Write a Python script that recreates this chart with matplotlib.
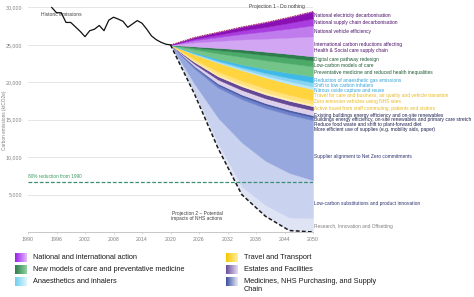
import numpy as np
import matplotlib
matplotlib.use('Agg')
import matplotlib.pyplot as plt
from matplotlib.colors import LinearSegmentedColormap

plt.rcParams['font.family'] = ['Liberation Sans', 'DejaVu Sans']

# ---------------- data ----------------
hist_years = list(range(1995, 2021))
hist_values = [30000, 29300, 29300, 28000, 28000, 27400, 26800, 26100, 26900, 27100,
               27600, 26900, 28300, 28700, 28450, 28150, 27350, 27800, 28250, 27900,
               27100, 26200, 25700, 25350, 25100, 25000]

proj_years = [2020, 2025, 2030, 2035, 2040, 2045, 2050]
proj2_bottom = [25000, 18500, 11200, 5000, 2100, 200, 0]

# band thicknesses, listed bottom-to-top
research = [0, 300, 700, 1100, 1500, 1750, 1870]
low_carbon_subs = [0, 1050, 3370, 5870, 5910, 5950, 5060]
supplier_alignment = [0, 2000, 4000, 5760, 7040, 7760, 8000]
efficient_supplies = [0, 200, 340, 380, 400, 400, 400]
food_waste = [0, 130, 230, 255, 267, 267, 267]
buildings_stretch = [0, 300, 530, 614, 647, 667, 667]
existing_buildings = [0, 240, 430, 490, 517, 533, 533]
active_travel = [0, 120, 213, 253, 267, 267, 267]
zero_emission = [0, 240, 430, 505, 533, 533, 533]
travel_care = [0, 660, 1170, 1390, 1467, 1467, 1467]
nitrous_oxide = [0, 60, 120, 180, 260, 340, 400]
inhalers = [0, 80, 160, 240, 350, 450, 533]
anaesthetic = [0, 120, 240, 360, 520, 680, 800]
preventative = [0, 400, 733, 1000, 1160, 1267, 1333]
low_carbon_care = [0, 240, 440, 600, 696, 760, 800]
digital_care = [0, 160, 293, 400, 464, 506, 533]
international = [0, 530, 930, 1330, 1740, 2180, 2670]
vehicle_eff = [0, 290, 510, 730, 960, 1200, 1470]
supply_chain = [0, 190, 330, 470, 600, 760, 930]
electricity = [0, 190, 330, 470, 600, 760, 930]

band_labels = [
    "Research, Innovation and Offsetting",
    "Low-carbon substitutions and product innovation",
    "Supplier alignment to Net Zero commitments",
    "More efficient use of supplies (e.g. mobility aids, paper)",
    "Reduce food waste and shift to plant-forward diet",
    "Buildings energy efficiency, on-site renewables and primary care stretch",
    "Existing buildings energy efficiency and on-site renewables",
    "Active travel from staff commuting, patients and visitors",
    "Zero emission vehicles using NHS sites",
    "Travel for care and business, air quality and vehicle transition",
    "Nitrous oxide capture and reuse",
    "Shift to low carbon inhalers",
    "Reduction of anaesthetic gas emissions",
    "Preventative medicine and reduced health inequalities",
    "Low-carbon models of care",
    "Digital care pathway redesign",
    "International carbon reductions affecting\nHealth & Social care supply chain",
    "National vehicle efficiency",
    "National supply chain decarbonisation",
    "National electricity decarbonisation",
]

legend_labels = ["National and international action",
                 "New models of care and preventative medicine",
                 "Anaesthetics and inhalers",
                 "Travel and Transport",
                 "Estates and Facilities",
                 "Medicines, NHS Purchasing, and Supply\nChain"]

y_ticks = [5000, 10000, 15000, 20000, 25000, 30000]
x_ticks = [1990, 1996, 2002, 2008, 2014, 2020, 2026, 2032, 2038, 2044, 2050]
reduction_target = 6680

# ---------------- styles ----------------
bands = [research, low_carbon_subs, supplier_alignment, efficient_supplies, food_waste,
         buildings_stretch, existing_buildings, active_travel, zero_emission, travel_care,
         nitrous_oxide, inhalers, anaesthetic, preventative, low_carbon_care, digital_care,
         international, vehicle_eff, supply_chain, electricity]
band_colors = ['#dfe4f5', '#c9d2ef', '#97a8df', '#6d82cb', '#4a5ba8',
               '#dcd0ea', '#644795', '#fff0b8', '#ffe27e', '#ffd43f',
               '#b7e6f7', '#86d4f1', '#3fb9e8', '#72c488', '#4caa68', '#2e7d4c',
               '#d2a6f3', '#c07cec', '#a93de0', '#8a10b4']
label_colors = ['#808080', '#2b3470', '#2b3470', '#1e2250', '#1e2250',
                '#1e2250', '#1e2250', '#e8b923', '#e8b923', '#e8b923',
                '#35a3d8', '#35a3d8', '#35a3d8', '#1f5a34', '#1f5a34', '#1f5a34',
                '#4b0f6b', '#4b0f6b', '#4b0f6b', '#4b0f6b']
label_pos = [800, 3830, 10060, 13720, 14390, 14970, 15630, 16500, 17460, 18210,
             18970, 19640, 20310, 21290, 22270, 23080, 24650, 26760, 27970, 28900]

fig = plt.figure(figsize=(4.74, 2.97), dpi=100)
ax = fig.add_axes([28/474, 65/297, 285/474, 232/297])
ax.set_xlim(1990, 2050)
ax.set_ylim(0, 31000)

ax.set_yticks(y_ticks)
ax.set_yticklabels([f"{v:,}" for v in y_ticks])
ax.set_xticks(x_ticks)
ax.set_xticklabels([str(v) for v in x_ticks])
ax.tick_params(axis='y', length=0, pad=4.0, labelsize=3.8, labelcolor='#808080')
ax.tick_params(axis='x', length=1.5, width=0.4, color='#bfbfbf', pad=2,
               labelsize=3.8, labelcolor='#808080')
ax.grid(axis='y', color='#dcdcdc', lw=0.5)
ax.set_axisbelow(True)
for s in ['top', 'right', 'left']:
    ax.spines[s].set_visible(False)
ax.spines['bottom'].set_color('#bfbfbf')
ax.spines['bottom'].set_linewidth(0.6)

# stacked projection bands
yrs = np.array(proj_years)
base = np.array(proj2_bottom, dtype=float)
for b, c in zip(bands, band_colors):
    top = base + np.array(b, dtype=float)
    ax.fill_between(yrs, base, top, color=c, lw=0.3, edgecolor=c, zorder=2)
    base = top
# do nothing line
ax.plot(yrs, base, color='#a0164e', lw=0.6, ls=(0, (2, 1)), zorder=4)
# projection 2 dashed
ax.plot(yrs, proj2_bottom, color='#1a1a1a', lw=1.1, ls=(0, (2.5, 1.5)), zorder=4)
# historic
ax.plot(hist_years, hist_values, color='#111111', lw=0.9, zorder=5)
# 80% reduction
ax.plot([1990, 2050], [reduction_target, reduction_target], color='#3a8f72', lw=0.9,
        ls=(0, (3, 1.5)), zorder=5)
ax.text(1990, 7350, "80% reduction from 1990", fontsize=3.4, color='#3a9a5b',
        ha='left', va='center')

ax.text(1992.7, 29000, "Historic emissions", fontsize=3.6, color='#404040', va='center')
ax.text(2048.3, 30100, "Projection 1 - Do nothing", fontsize=3.6, color='#404040',
        va='center', ha='right', zorder=6)
ax.text(2025.6, 2140, "Projection 2 \u2013 Potential\nimpacts of NHS actions", fontsize=3.5,
        color='#404040', ha='center', va='center', linespacing=1.1)

for lab, pos, c in zip(band_labels, label_pos, label_colors):
    ax.text(2050.3, pos, lab, fontsize=3.5, color=c, ha='left', va='center',
            clip_on=False, linespacing=1.2)

fig.text(5/474, 1 - 120/297, "Carbon emissions (ktCO2e)", rotation=90, fontsize=3.4,
         color='#808080', ha='center', va='center')

# ---------------- legend ----------------
lax = fig.add_axes([0, 0, 1, 65/297])
lax.axis('off')
grad = np.linspace(0, 1, 64).reshape(1, -1)
legend_grads = [('#9b1fe8', '#e4b8ff'), ('#2e7d4c', '#8fd4a2'), ('#6fd0f0', '#e0f6fd'),
                ('#f7c600', '#fff0a0'), ('#6b4e9b', '#e4dcf0'), ('#3d4f9f', '#e8ecf8')]
legend_xy = [(15, 253), (15, 265), (15, 277), (226, 253), (226, 265), (226, 277)]
for lab, (c0, c1), (x0, y0) in zip(legend_labels, legend_grads, legend_xy):
    cm = LinearSegmentedColormap.from_list('g', [c0, c1])
    lax.imshow(grad, cmap=cm, extent=[x0, x0 + 12, y0 + 9, y0], aspect='auto')
    lax.text(x0 + 18, y0 + 4.6 - (3.5 if '\n' in lab else 0), lab, fontsize=5.3,
             color='#1a1a1a', ha='left', va='top' if '\n' in lab else 'center',
             linespacing=1.15)
lax.set_xlim(0, 474)
lax.set_ylim(297, 232)

fig.savefig('out.png', dpi=100)
